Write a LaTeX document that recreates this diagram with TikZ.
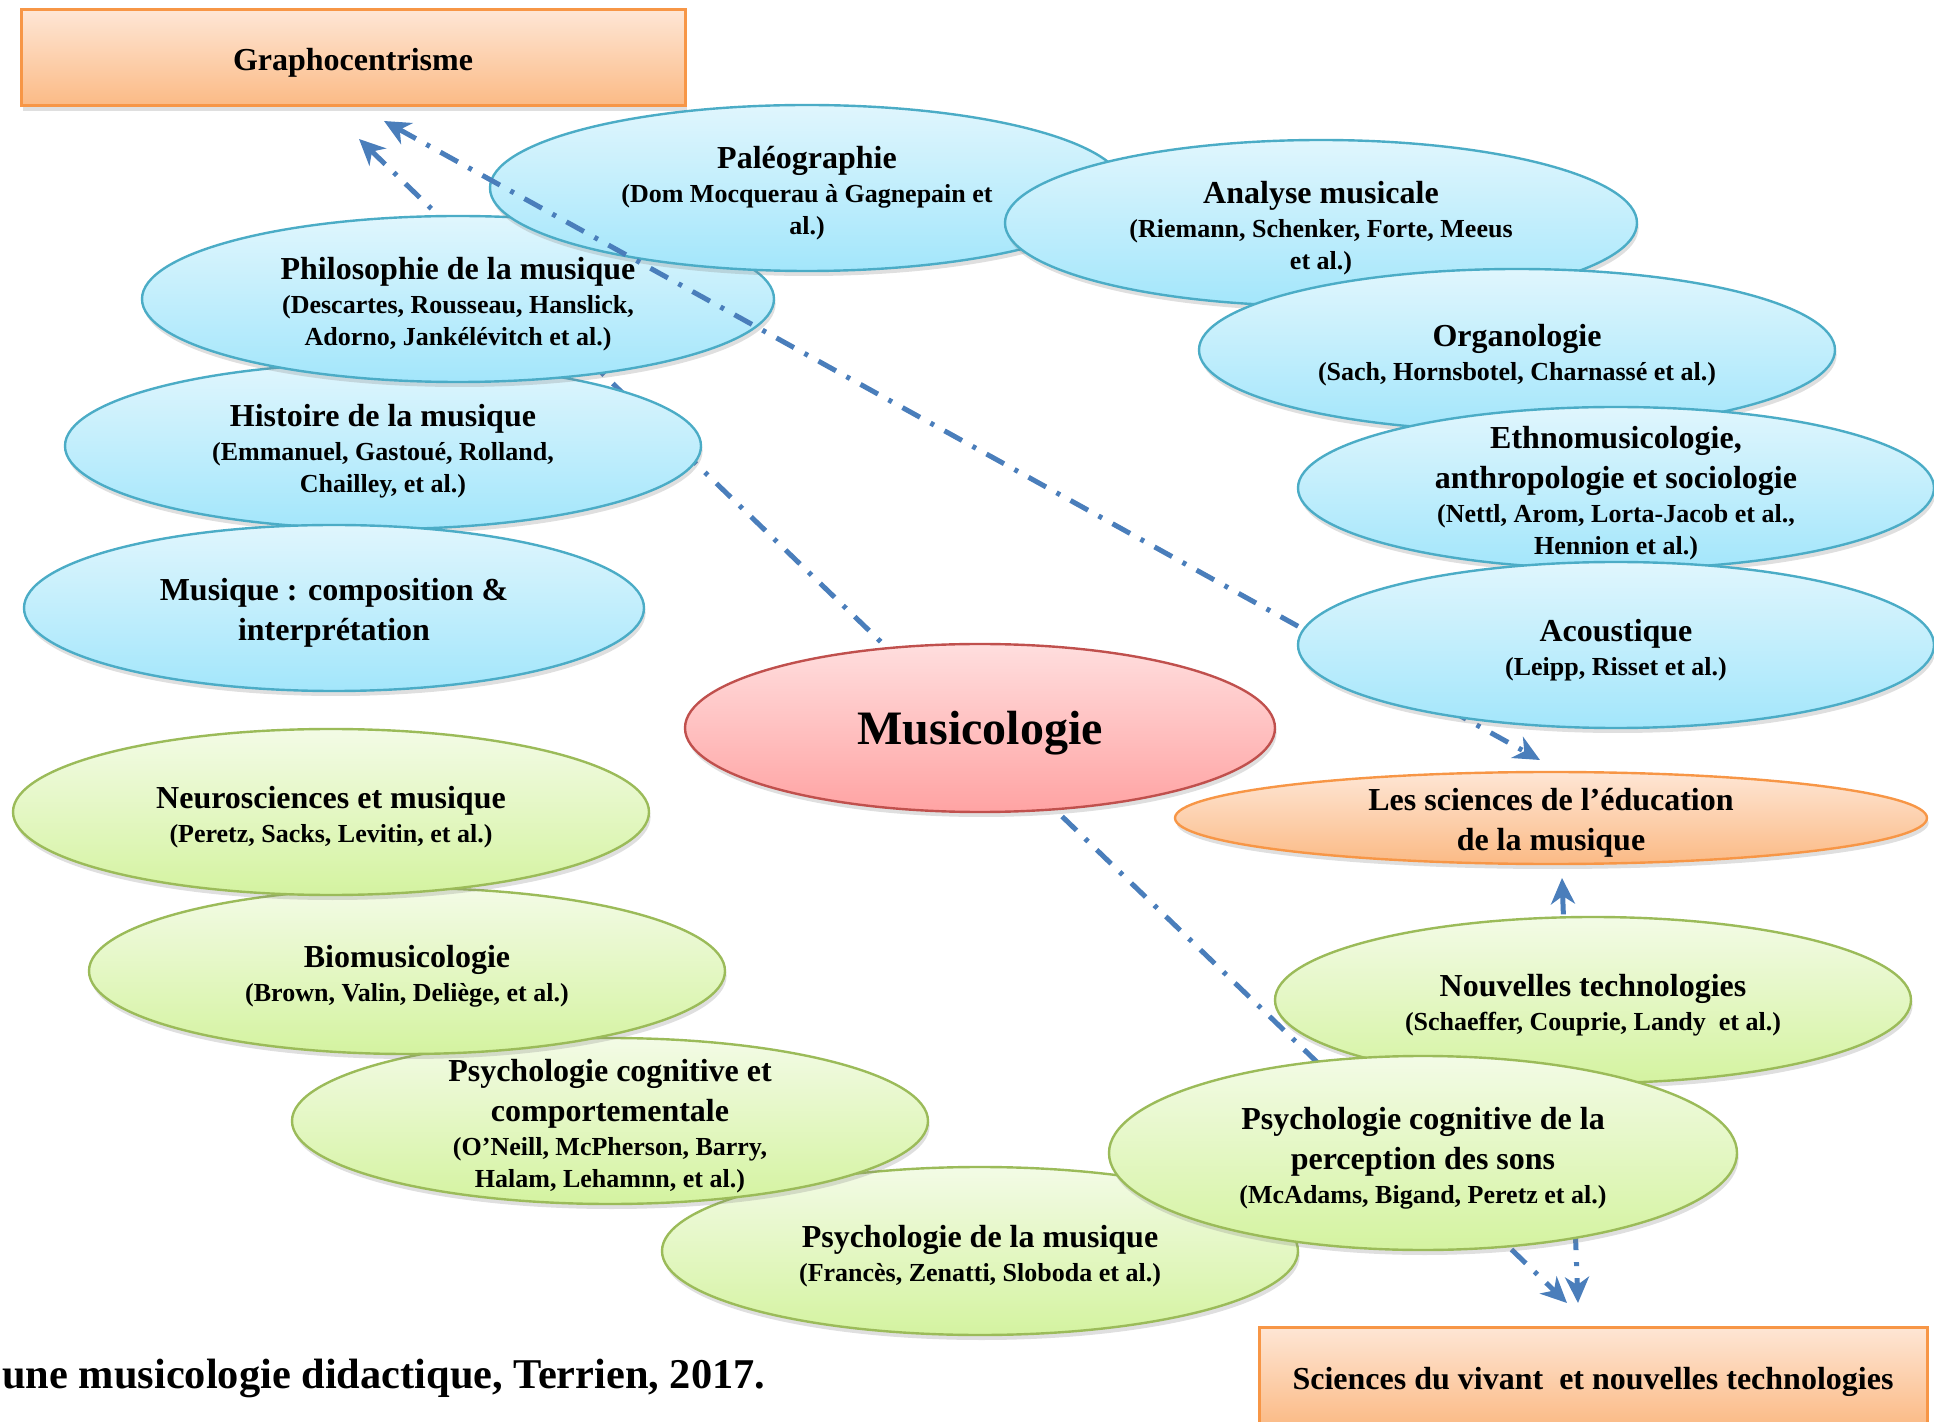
\documentclass[tikz,border=0pt]{standalone}
\usepackage{fontspec}
\setmainfont{Liberation Serif}
\usetikzlibrary{shapes.geometric,arrows.meta,shadows}

\definecolor{bleuBord}{HTML}{4BACC6}
\definecolor{bleuHaut}{HTML}{E0F6FD}
\definecolor{bleuBas}{HTML}{A3E6FB}
\definecolor{vertBord}{HTML}{9BBB59}
\definecolor{vertHaut}{HTML}{F3FBE6}
\definecolor{vertBas}{HTML}{D4F3A0}
\definecolor{rougeBord}{HTML}{C0504D}
\definecolor{rougeHaut}{HTML}{FFDEDE}
\definecolor{rougeBas}{HTML}{FFA3A3}
\definecolor{orangeBord}{HTML}{F79646}
\definecolor{orangeHaut}{HTML}{FEE6D5}
\definecolor{orangeBas}{HTML}{FBBA85}
\definecolor{fleche}{HTML}{4A7EBB}

\newcommand{\titre}{\fontsize{16}{20}\selectfont}
\newcommand{\auteurs}{\fontsize{13}{16}\selectfont}
\newcommand{\haut}{\rule{0pt}{1em}}

\begin{document}
\begin{tikzpicture}[x=0.5pt, y=-0.5pt, font=\bfseries\titre,
ombre/.style={drop shadow={shadow xshift=0.8pt, shadow yshift=-2.5pt, opacity=0.25}},
ell/.style={ellipse, line width=1.2pt, align=center, inner xsep=0pt, inner ysep=-10pt, ombre, minimum width=318pt, minimum height=83pt},
bleu/.style={ell, draw=bleuBord, top color=bleuHaut, bottom color=bleuBas},
vert/.style={ell, draw=vertBord, top color=vertHaut, bottom color=vertBas},
boite/.style={rectangle, draw=orangeBord, line width=1.5pt, top color=orangeHaut, bottom color=orangeBas, ombre},
lien/.style={draw=fleche, line width=2.5pt, dash pattern=on 10pt off 6pt on 2pt off 6pt,
  {Stealth[length=13pt,width=12pt,inset=4pt]}-{Stealth[length=13pt,width=12pt,inset=4pt]}}]

\useasboundingbox (0,0) rectangle (1934,1422);

\node[boite, minimum width=332pt, minimum height=48pt] (grapho) at (353,58) {\haut Graphocentrisme};
\node[boite, minimum width=334pt, minimum height=50pt] (vivant) at (1593,1377) {\haut Sciences du vivant\ \ et nouvelles technologies};
\node[ell, draw=orangeBord, top color=orangeHaut, bottom color=orangeBas, minimum width=376pt, minimum height=46pt] (educ) at (1551,818) {\haut Les sciences de l’éducation\\ de la musique};

\coordinate (gA) at (359,139);
\coordinate (vA) at (1567,1303);
\coordinate (gB) at (384,121);
\coordinate (eB) at (1540,760);
\coordinate (eC) at (1562,878);
\coordinate (vC) at (1578,1303);

\draw[lien] (gA) -- (vA);
\draw[lien] (eC) -- (vC);

\node[bleu] (histoire) at (383,446) {\haut Histoire de la musique\\[-3pt] \auteurs (Emmanuel, Gastoué, Rolland,\\[-4pt] \auteurs Chailley, et al.)};
\node[bleu, minimum width=310pt] (musique) at (334,608) {\haut Musique : composition \&\\ interprétation};
\node[bleu, minimum width=316pt] (philo) at (458,299) {\haut Philosophie de la musique\\[-3pt] \auteurs (Descartes, Rousseau, Hanslick,\\[-4pt] \auteurs Adorno, Jankélévitch et al.)};
\node[bleu, minimum width=317pt] (paleo) at (807,188) {\haut Paléographie\\[-3pt] \auteurs (Dom Mocquerau à Gagnepain et\\[-4pt] \auteurs al.)};
\node[bleu, minimum width=316pt] (analyse) at (1321,223) {\haut Analyse musicale\\[-3pt] \auteurs (Riemann, Schenker, Forte, Meeus\\[-4pt] \auteurs et al.)};
\node[bleu, minimum height=81pt] (organo) at (1517,350) {\haut Organologie\\[-3pt] \auteurs (Sach, Hornsbotel, Charnassé et al.)};
\node[bleu, minimum height=81pt] (ethno) at (1616,488) {\haut Ethnomusicologie,\\ anthropologie et sociologie\\[-3pt] \auteurs (Nettl, Arom, Lorta-Jacob et al.,\\[-4pt] \auteurs Hennion et al.)};

\draw[lien] (gB) -- (eB);

\node[bleu] (acoustique) at (1616,645) {\haut Acoustique\\[-3pt] \auteurs (Leipp, Risset et al.)};

\node[ell, draw=rougeBord, top color=rougeHaut, bottom color=rougeBas, minimum width=295pt, minimum height=84pt, font=\bfseries\fontsize{24}{28}\selectfont] (musicologie) at (980,728) {\rule{0pt}{0.9em}Musicologie};

\node[vert, minimum height=84pt] (psymus) at (980,1251) {\haut Psychologie de la musique\\[-3pt] \auteurs (Francès, Zenatti, Sloboda et al.)};
\node[vert] (psycomp) at (610,1121) {\haut Psychologie cognitive et\\ comportementale\\[-3pt] \auteurs (O’Neill, McPherson, Barry,\\[-4pt] \auteurs Halam, Lehamnn, et al.)};
\node[vert] (bio) at (407,971) {\haut Biomusicologie\\[-3pt] \auteurs (Brown, Valin, Deliège, et al.)};
\node[vert] (neuro) at (331,812) {\haut Neurosciences et musique\\[-3pt] \auteurs (Peretz, Sacks, Levitin, et al.)};
\node[vert] (nouvelles) at (1593,1000) {\haut Nouvelles technologies\\[-3pt] \auteurs (Schaeffer, Couprie, Landy\ \ et al.)};
\node[vert, minimum width=314pt, minimum height=97pt] (perception) at (1423,1153) {\haut Psychologie cognitive de la\\ perception des sons\\[-3pt] \auteurs (McAdams, Bigand, Peretz et al.)};

\node[anchor=west, inner sep=0pt, font=\bfseries\fontsize{21.2}{25}\selectfont] (legende) at (2,1378) {une musicologie didactique, Terrien, 2017.};

\end{tikzpicture}
\end{document}
